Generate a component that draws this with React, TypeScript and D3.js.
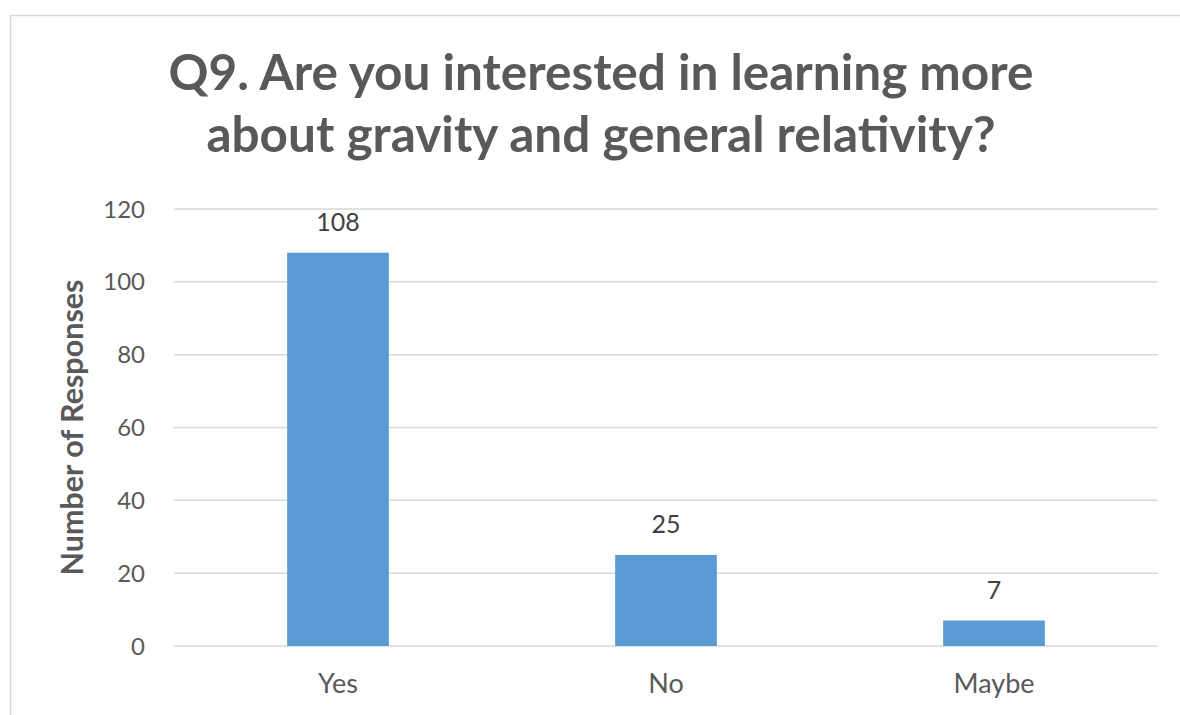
import React from 'react';
import * as d3 from 'd3';

const categories: string[] = ['Yes', 'No', 'Maybe'];
const responses: number[] = [108, 25, 7];
const yTicks: number[] = [0, 20, 40, 60, 80, 100, 120];
const titleLines: string[] = [
    'Q9. Are you interested in learning more',
    'about gravity and general relativity?',
];

const width = 1180;
const height = 715;
const margin = { top: 209, right: 22, bottom: 69, left: 174 };
const font = 'Lato, "Open Sans", sans-serif';

function App() {
    const x = d3.scaleBand<string>()
        .domain(categories)
        .range([margin.left, width - margin.right])
        .paddingInner(0.69)
        .paddingOuter(0.345);

    const y = d3.scaleLinear()
        .domain([0, 120])
        .range([height - margin.bottom, margin.top]);

    return (
        <svg width={width} height={height} style={{ position: 'absolute', left: 0, top: 0 }}>
            <rect x={0} y={0} width={width} height={height} fill="#fff" />
            <rect x={10.5} y={15.5} width={width} height={height} fill="none" stroke="#d9d9d9" strokeWidth={1.5} />

            {titleLines.map((t, i) => (
                <text key={i} x={601} y={90 + i * 62} textAnchor="middle"
                    fontFamily={font} fontWeight="bold" fontSize={49.5} fill="#595959">{t}</text>
            ))}

            <g className="grid">
                {yTicks.map(t => (
                    <line key={t} x1={margin.left} x2={width - margin.right} y1={y(t)} y2={y(t)}
                        stroke="#d9d9d9" strokeWidth={1.5} />
                ))}
            </g>
            <g className="y-axis">
                {yTicks.map(t => (
                    <text key={t} x={145} y={y(t)} dy="0.36em" textAnchor="end"
                        fontFamily={font} fontSize={24} fill="#595959">{t}</text>
                ))}
            </g>
            <text transform={`translate(83,${(y(0) + y(120)) / 2}) rotate(-90)`} textAnchor="middle"
                fontFamily={font} fontWeight="bold" fontSize={30.5} fill="#595959">Number of Responses</text>

            <g className="bars" fill="#5b9bd5">
                {categories.map((c, i) => (
                    <rect key={c} x={x(c)} y={y(responses[i])} width={x.bandwidth()}
                        height={y(0) - y(responses[i])} />
                ))}
            </g>
            <g className="labels">
                {categories.map((c, i) => (
                    <text key={c} x={(x(c) as number) + x.bandwidth() / 2} y={y(responses[i]) - 22}
                        textAnchor="middle" fontFamily={font} fontSize={25} fill="#404040">{responses[i]}</text>
                ))}
            </g>
            <g className="x-axis">
                {categories.map(c => (
                    <text key={c} x={(x(c) as number) + x.bandwidth() / 2} y={693}
                        textAnchor="middle" fontFamily={font} fontSize={27} fill="#595959">{c}</text>
                ))}
            </g>
        </svg>
    );
}

export default App;
